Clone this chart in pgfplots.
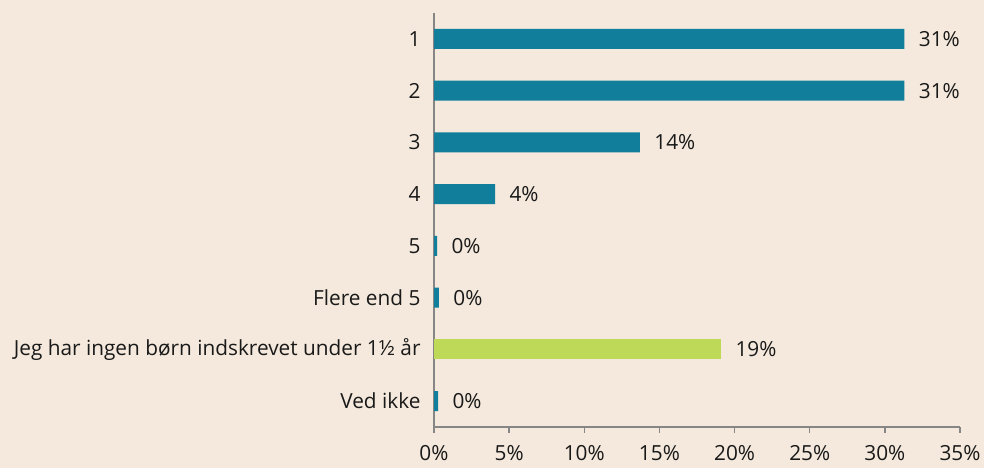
\documentclass[border=0pt]{standalone}
\usepackage{fontspec}
\setmainfont{Open Sans}
\usepackage{pgfplots}
\pgfplotsset{compat=1.18}
\definecolor{bg}{RGB}{244,233,220}
\definecolor{teal}{RGB}{17,127,155}
\definecolor{lgreen}{RGB}{190,216,87}
\definecolor{axgray}{RGB}{134,134,134}
\begin{document}
\begin{tikzpicture}[x=1bp,y=1bp]
\fill[bg] (0,0) rectangle (984,468);
\begin{axis}[
  at={(434bp,41bp)}, anchor=south west,
  scale only axis, width=526bp, height=414bp,
  xbar, bar width=20bp, bar shift=0pt,
  xmin=0, xmax=35, ymin=0.5, ymax=8.5, y dir=reverse,
  axis x line*=bottom, axis y line*=left,
  axis line style={axgray, line width=1.3bp},
  every tick/.style={axgray, line width=1.3bp},
  tick align=outside,
  xtick={0,5,...,35},
  xticklabel={\pgfmathprintnumber{\tick}\%},
  /pgf/number format/assume math mode=true,
  major tick length=6bp,
  ytick={1,...,8},
  yticklabels={1,2,3,4,5,Flere end 5,Jeg har ingen børn indskrevet under 1½ år,Ved ikke},
  ytick style={draw=none},
  minor ytick={0.5,1.5,...,8.5},
  minor tick length=6bp,
  minor y tick style={axgray, line width=1.3bp},
  tick label style={font=\fontsize{20.8bp}{24bp}\selectfont, text=black!90},
  yticklabel style={xshift=-4bp},
  xticklabel style={yshift=-9bp},
  nodes near coords,
  point meta=explicit symbolic,
  every node near coord/.append style={font=\fontsize{20.8bp}{24bp}\selectfont, text=black!90, anchor=west, xshift=11bp},
  clip=false,
]
\addplot[fill=teal, draw=none] coordinates {
 (31.3,1) [31\%]
 (31.3,2) [31\%]
 (13.7,3) [14\%]
 (4.06,4) [4\%]
 (0.2,5) [0\%]
 (0.33,6) [0\%]
 (0.27,8) [0\%]
};
\addplot[fill=lgreen, draw=none] coordinates {
 (19.1,7) [19\%]
};
\end{axis}
\end{tikzpicture}
\end{document}
